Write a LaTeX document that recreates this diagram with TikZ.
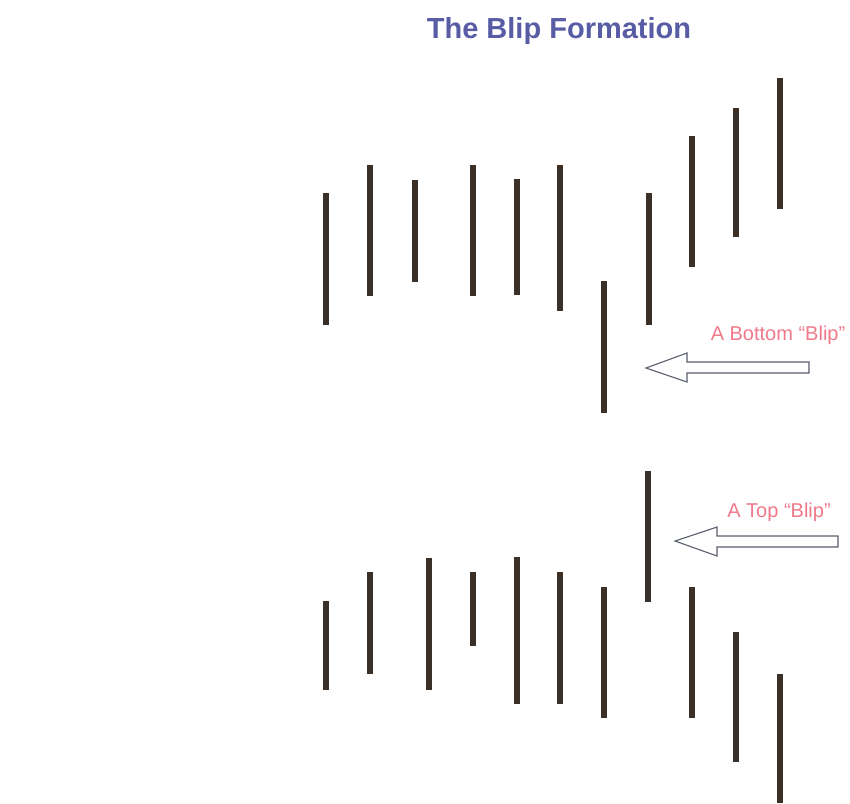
\documentclass[tikz,border=0pt]{standalone}
\usepackage{fontspec}
\setmainfont{Liberation Sans}
\begin{document}
\begin{tikzpicture}[x=1pt,y=-1pt,
  bar/.style={line width=6.5pt,draw={rgb,255:red,58;green,48;blue,40}},
  blockarrow/.style={draw={rgb,255:red,90;green,95;blue,110},line width=1.1pt,fill=white,line join=miter},
  lbl/.style={text={rgb,255:red,240;green,120;blue,138},font=\fontsize{20}{22}\selectfont,inner sep=0pt}]
\useasboundingbox (0,0) rectangle (850,803);
% title
\node[text={rgb,255:red,88;green,92;blue,165},font=\fontsize{29}{32}\selectfont\bfseries,inner sep=0pt] (title) at (559,31) {The Blip Formation};
% top group
\foreach \x/\a/\b in {326/193/325, 370/165/296, 415/180/282, 473/165/296, 517/179/295, 560/165/311, 604/281/413, 649/193/325, 692/136/267, 736/108/237, 780/78/209}
  \draw[bar] (\x,\a) -- (\x,\b);
% bottom group
\foreach \x/\a/\b in {326/601/690, 370/572/674, 429/558/690, 473/572/646, 517/557/704, 560/572/704, 604/587/718, 648/471/602, 692/587/718, 736/632/762, 780/674/803}
  \draw[bar] (\x,\a) -- (\x,\b);
% labels
\node[lbl] (lb) at (778,335) {A Bottom “Blip”};
\node[lbl] (lt) at (779,512) {A Top “Blip”};
% block arrows
\draw[blockarrow] (646,368) -- (687,353) -- (687,362) -- (809,362) -- (809,373) -- (687,373) -- (687,382) -- cycle;
\draw[blockarrow] (675,541) -- (717,527) -- (717,536) -- (838,536) -- (838,547) -- (717,547) -- (717,556) -- cycle;
\end{tikzpicture}
\end{document}
